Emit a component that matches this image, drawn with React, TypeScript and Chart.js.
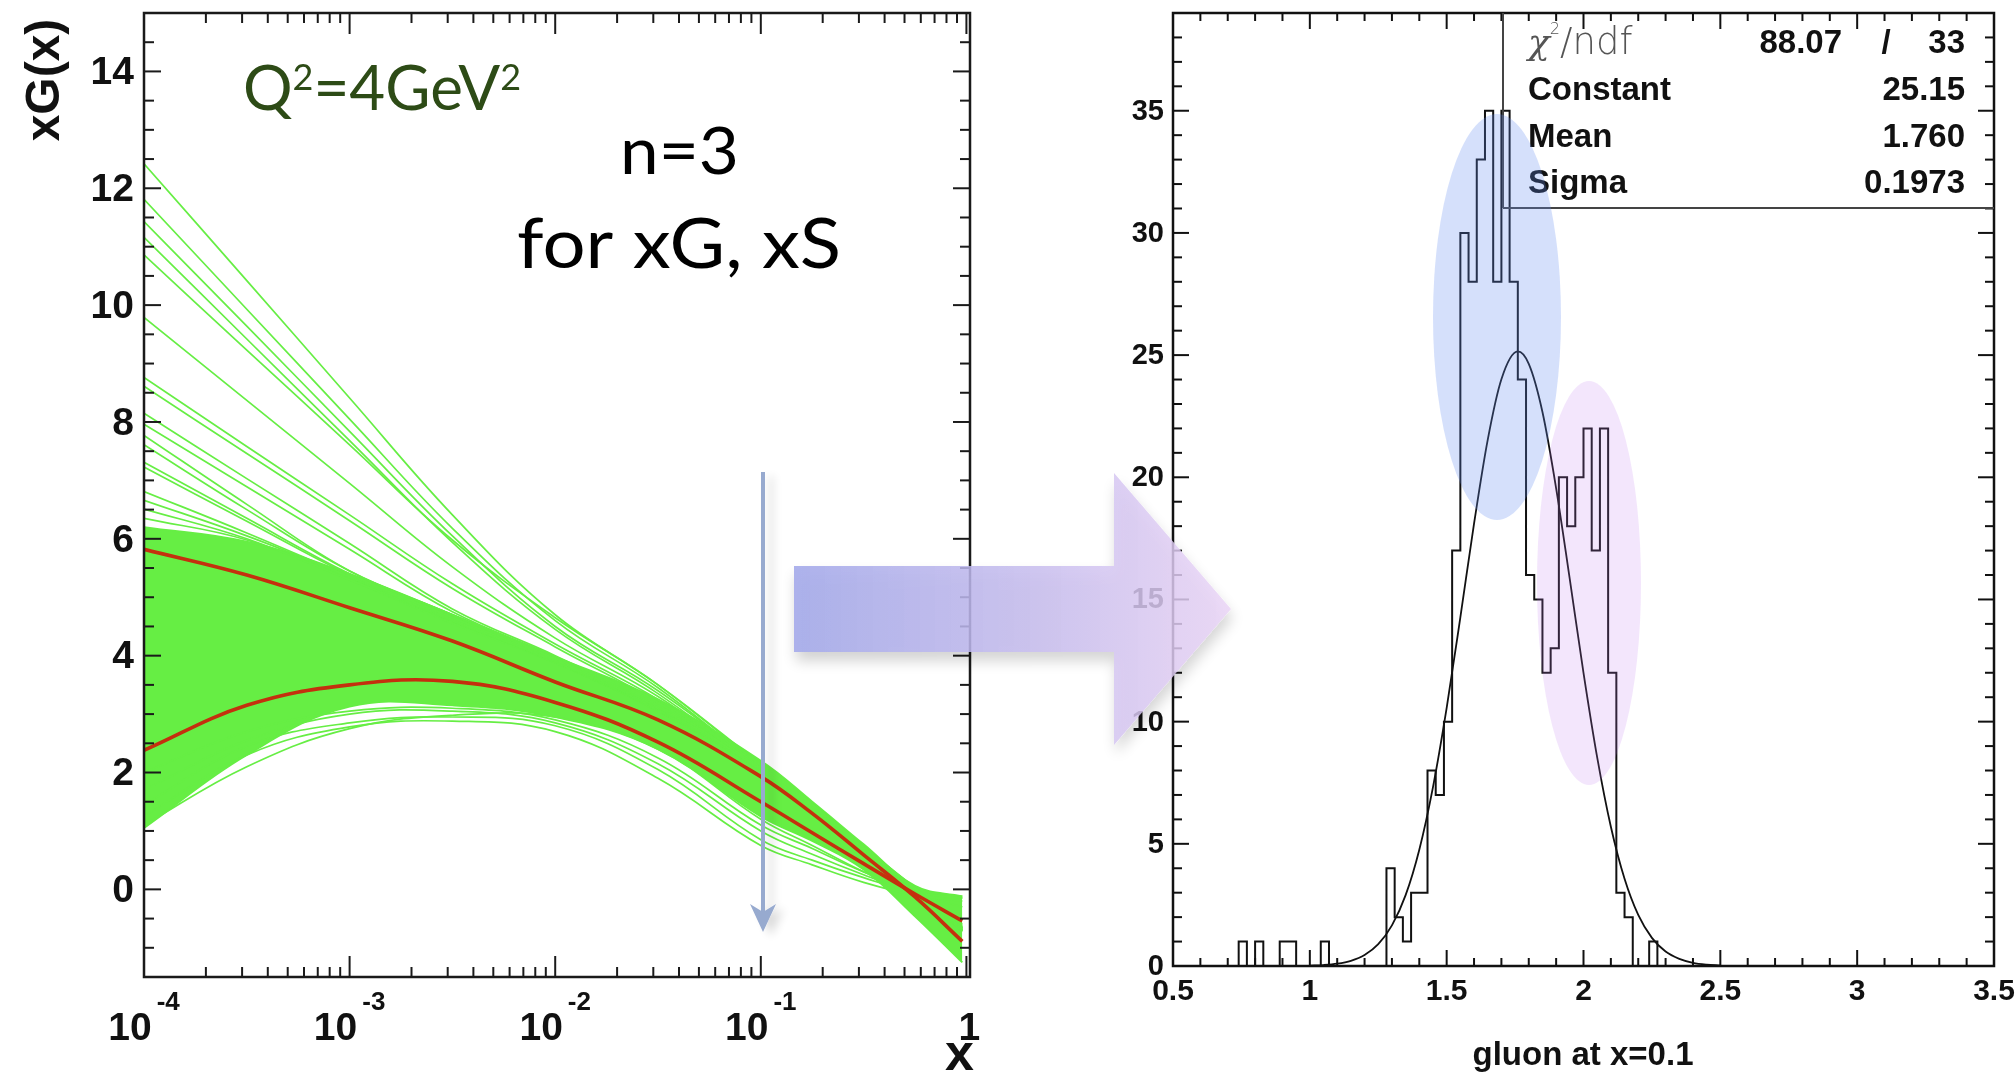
import React, { useEffect, useRef } from "react";
import { Chart, registerables } from "chart.js";

Chart.register(...registerables);

const PAGE_W = 2015;
const PAGE_H = 1074;

// ---------------- left panel: xG(x) replicas at Q^2 = 4 GeV^2 ----------------
const xGrid = [1e-4, 3.162e-4, 1e-3, 3.162e-3, 1e-2, 3.162e-2, 0.1, 0.1778, 0.3162, 0.5623, 0.955];
const bandUpper = [6.2, 5.95, 5.4, 4.7, 3.98, 3.25, 2.2, 1.5, 0.77, 0.06, -0.12];
const bandLower = [1.05, 2.3, 3.13, 3.15, 2.95, 2.4, 1.25, 0.83, 0.34, -0.46, -1.25];
const redCurveA = [5.82, 5.38, 4.82, 4.25, 3.55, 2.9, 1.93, 1.3, 0.59, -0.13, -0.89];
const redCurveB = [2.38, 3.15, 3.5, 3.56, 3.2, 2.52, 1.5, 0.97, 0.44, -0.08, -0.54];
const replicasHigh = [
  [12.42, 10.42, 8.41, 6.41, 4.7, 3.5, 2.12, 1.45, 0.72, 0.02, -0.62],
  [11.81, 9.93, 8.05, 6.18, 4.6, 3.45, 2.08, 1.42, 0.7, 0.0, -0.66],
  [11.43, 9.64, 7.84, 6.05, 4.5, 3.4, 2.1, 1.43, 0.71, 0.01, -0.64],
  [11.16, 9.42, 7.68, 5.94, 4.45, 3.35, 2.06, 1.4, 0.68, 0.0, -0.68],
  [10.86, 9.23, 7.61, 5.98, 4.65, 3.5, 2.14, 1.46, 0.73, 0.03, -0.6],
  [9.79, 8.37, 6.95, 5.52, 4.3, 3.3, 2.05, 1.38, 0.66, -0.01, -0.7],
  [8.76, 7.58, 6.41, 5.23, 4.2, 3.25, 2.08, 1.4, 0.69, 0.0, -0.66],
  [8.61, 7.46, 6.31, 5.15, 4.15, 3.2, 2.04, 1.37, 0.67, -0.01, -0.7],
  [8.15, 7.03, 5.92, 4.8, 4.0, 3.15, 2.1, 1.42, 0.7, 0.01, -0.65],
  [7.96, 6.89, 5.82, 4.75, 3.98, 3.12, 2.06, 1.39, 0.68, 0.0, -0.68],
  [7.77, 6.59, 5.45, 4.7, 3.95, 3.12, 2.08, 1.4, 0.69, 0.0, -0.66],
  [7.61, 6.5, 5.45, 4.7, 3.93, 3.1, 2.05, 1.38, 0.67, -0.01, -0.7],
  [7.31, 6.35, 5.4, 4.65, 3.92, 3.1, 2.07, 1.4, 0.69, 0.0, -0.66],
  [7.23, 6.3, 5.38, 4.62, 3.9, 3.08, 2.04, 1.37, 0.66, -0.02, -0.72],
  [6.81, 6.1, 5.35, 4.6, 3.9, 3.08, 2.06, 1.39, 0.68, 0.0, -0.68],
  [6.66, 6.05, 5.35, 4.6, 3.9, 3.06, 2.05, 1.38, 0.67, -0.01, -0.7],
  [6.51, 6.0, 5.3, 4.6, 3.88, 3.06, 2.04, 1.37, 0.66, -0.01, -0.71],
  [6.35, 5.98, 5.3, 4.55, 3.88, 3.05, 2.03, 1.36, 0.65, -0.02, -0.72],
];
const replicasLow = [
  [1.45, 2.45, 2.85, 2.95, 2.8, 2.05, 0.85, 0.5, 0.2, -0.05, -0.15],
  [1.25, 2.3, 2.78, 2.88, 2.7, 1.9, 0.75, 0.42, 0.12, -0.1, -0.2],
  [1.7, 2.55, 3.0, 3.05, 2.85, 2.15, 1.0, 0.6, 0.25, -0.05, -0.12],
  [2.0, 2.7, 3.05, 3.1, 2.9, 2.25, 1.1, 0.7, 0.3, 0.0, -0.15],
  [1.1, 2.1, 2.75, 2.98, 2.95, 2.4, 1.2, 0.75, 0.3, -0.08, -0.3],
];
const leftYTicks = [0, 2, 4, 6, 8, 10, 12, 14];
const leftXDecades = [1e-4, 1e-3, 1e-2, 1e-1, 1];
const leftXBase = ["10", "10", "10", "10", "1"];
const leftXExp = ["-4", "-3", "-2", "-1", ""];

// ---------------- right panel: gluon at x = 0.1 ----------------
const histFirstEdge = 0.5;
const histBinWidth = 0.03;
const histCounts = [
  0, 0, 0, 0, 0, 0, 0, 0, 1, 0,
  1, 0, 0, 1, 1, 0, 0, 0, 1, 0,
  0, 0, 0, 0, 0, 0, 4, 2, 1, 3,
  3, 8, 7, 10, 17, 30, 28, 33, 35, 28,
  35, 28, 24, 16, 15, 12, 13, 20, 18, 20,
  22, 17, 22, 12, 3, 2, 0, 0, 1, 0,
  0, 0, 0, 0, 0, 0, 0, 0, 0, 0,
  0, 0, 0, 0, 0, 0, 0, 0, 0, 0,
  0, 0, 0, 0, 0, 0, 0, 0, 0, 0,
  0, 0, 0, 0, 0, 0, 0, 0, 0, 0,
];
const fitX = [1.0, 1.05, 1.1, 1.15, 1.2, 1.25, 1.3, 1.35, 1.4, 1.45, 1.5, 1.55, 1.6, 1.65, 1.7, 1.76, 1.8, 1.85, 1.9, 1.95, 2.0, 2.05, 2.1, 2.15, 2.2, 2.25, 2.3, 2.35, 2.4, 2.45, 2.5];
const fitY = [0.015, 0.039, 0.093, 0.211, 0.448, 0.891, 1.66, 2.9, 4.76, 7.32, 10.56, 14.27, 18.1, 21.53, 24.01, 25.15, 24.64, 22.67, 19.55, 15.82, 12.0, 8.54, 5.7, 3.57, 2.09, 1.15, 0.59, 0.29, 0.13, 0.056, 0.022];
const rightXTicks = [0.5, 1, 1.5, 2, 2.5, 3, 3.5];
const rightXTickLabels = ["0.5", "1", "1.5", "2", "2.5", "3", "3.5"];
const rightYTicks = [0, 5, 10, 15, 20, 25, 30, 35];
const statNames = ["Constant", "Mean", "Sigma"];
const statValues = ["25.15", "1.760", "0.1973"];
const chi2Value = "88.07";
const ndfValue = "33";

const GREEN = "#66ee44";
const RED = "#c4300e";
const INK = "#111";
const HELV = '"Liberation Sans", Arial, Helvetica, sans-serif';

type Run = { t: string; font: string; dy: number };
function drawRuns(ctx: CanvasRenderingContext2D, runs: Run[], x: number, base: number, targetW?: number) {
  let total = 0;
  const ws = runs.map((r) => {
    ctx.font = r.font;
    const w = ctx.measureText(r.t).width;
    total += w;
    return w;
  });
  const s = targetW ? targetW / total : 1;
  ctx.save();
  ctx.translate(x, base);
  ctx.scale(s, 1);
  ctx.textAlign = "left";
  ctx.textBaseline = "alphabetic";
  let cx = 0;
  runs.forEach((r, i) => {
    ctx.font = r.font;
    ctx.fillText(r.t, cx, r.dy);
    cx += ws[i];
  });
  ctx.restore();
}

function hLine(ctx: CanvasRenderingContext2D, x1: number, y1: number, x2: number, y2: number) {
  ctx.beginPath();
  ctx.moveTo(x1, y1);
  ctx.lineTo(x2, y2);
  ctx.stroke();
}

const leftDecor = {
  id: "leftDecor",
  afterDatasetsDraw(chart: any) {
    const { ctx, chartArea: a, scales } = chart;
    const xs = scales.x;
    const ys = scales.y;
    ctx.save();
    ctx.strokeStyle = "#1a1a1a";
    ctx.lineWidth = 2.5;
    ctx.strokeRect(a.left, a.top, a.right - a.left, a.bottom - a.top);
    ctx.lineWidth = 2;
    for (let k = -2; k <= 29; k++) {
      const v = k * 0.5;
      if (v <= ys.min || v >= ys.max) continue;
      const py = ys.getPixelForValue(v);
      const len = k % 4 === 0 ? 17 : 10;
      hLine(ctx, a.left, py, a.left + len, py);
      hLine(ctx, a.right, py, a.right - len, py);
    }
    for (let n = -4; n <= 0; n++) {
      for (let m = 1; m <= 9; m++) {
        const v = m * Math.pow(10, n);
        if (v < xs.min || v > xs.max) continue;
        const px = xs.getPixelForValue(v);
        const len = m === 1 ? 21 : 10;
        hLine(ctx, px, a.bottom, px, a.bottom - len);
        hLine(ctx, px, a.top, px, a.top + len);
      }
    }
    ctx.restore();
  },
  afterDraw(chart: any) {
    const { ctx, chartArea: a, scales } = chart;
    const xs = scales.x;
    const ys = scales.y;
    ctx.save();
    ctx.fillStyle = INK;
    ctx.font = `bold 39px ${HELV}`;
    ctx.textAlign = "right";
    ctx.textBaseline = "middle";
    leftYTicks.forEach((v) => ctx.fillText(String(v), a.left - 10, ys.getPixelForValue(v) + 2));

    const baseFont = `bold 39px ${HELV}`;
    const expFont = `bold 26px ${HELV}`;
    leftXDecades.forEach((v, i) => {
      ctx.font = baseFont;
      const wb = ctx.measureText(leftXBase[i]).width;
      ctx.font = expFont;
      const we = leftXExp[i] ? ctx.measureText(leftXExp[i]).width : 0;
      const gap = leftXExp[i] ? 5 : 0;
      const px = xs.getPixelForValue(v);
      const sx = px - (wb + gap + we) / 2 + (leftXExp[i] ? 0 : 3);
      ctx.textAlign = "left";
      ctx.textBaseline = "alphabetic";
      ctx.font = baseFont;
      ctx.fillText(leftXBase[i], sx, 1040);
      if (leftXExp[i]) {
        ctx.font = expFont;
        ctx.fillText(leftXExp[i], sx + wb + gap, 1010);
      }
    });

    // axis titles
    ctx.font = `bold 52px ${HELV}`;
    ctx.textAlign = "right";
    ctx.fillText("x", a.right + 4, 1070);

    ctx.save();
    ctx.translate(59, 80);
    ctx.rotate(-Math.PI / 2);
    ctx.font = `bold 48px ${HELV}`;
    ctx.textAlign = "center";
    ctx.textBaseline = "alphabetic";
    ctx.fillText("xG(x)", 0, 0);
    ctx.restore();

    // annotations
    ctx.fillStyle = "#2d4b16";
    drawRuns(
      ctx,
      [
        { t: "Q", font: "62px Lato, sans-serif", dy: 0 },
        { t: "2", font: "36px Lato, sans-serif", dy: -20 },
        { t: "=4GeV", font: "62px Lato, sans-serif", dy: 0 },
        { t: "2", font: "36px Lato, sans-serif", dy: -20 },
      ],
      243,
      110,
      278
    );
    ctx.fillStyle = "#000";
    drawRuns(ctx, [{ t: "n=3", font: "65px Lato, sans-serif", dy: 0 }], 620, 174, 119);
    drawRuns(ctx, [{ t: "for xG, xS", font: "70px Lato, sans-serif", dy: 0 }], 517, 268, 324);
    ctx.restore();
  },
};

const rightDecor = {
  id: "rightDecor",
  afterDatasetsDraw(chart: any) {
    const { ctx, chartArea: a, scales } = chart;
    const xs = scales.x;
    const ys = scales.y;
    ctx.save();
    ctx.strokeStyle = "#111";
    ctx.lineWidth = 2.5;
    ctx.strokeRect(a.left, a.top, a.right - a.left, a.bottom - a.top);
    ctx.lineWidth = 2;
    for (let v = 1; v < ys.max; v++) {
      const py = ys.getPixelForValue(v);
      const len = v % 5 === 0 ? 16 : 9;
      hLine(ctx, a.left, py, a.left + len, py);
      hLine(ctx, a.right, py, a.right - len, py);
    }
    for (let k = 6; k < 35; k++) {
      const v = k / 10;
      const px = xs.getPixelForValue(v);
      const len = k % 5 === 0 ? 16 : 8;
      hLine(ctx, px, a.bottom, px, a.bottom - len);
      hLine(ctx, px, a.top, px, a.top + len);
    }
    // statistics box
    const boxL = 503;
    const boxB = 208;
    ctx.strokeStyle = "#444";
    ctx.lineWidth = 2;
    hLine(ctx, boxL, a.top, boxL, boxB);
    hLine(ctx, boxL, boxB, a.right, boxB);
    ctx.restore();
  },
  afterDraw(chart: any) {
    const { ctx, chartArea: a, scales } = chart;
    const xs = scales.x;
    const ys = scales.y;
    ctx.save();
    ctx.fillStyle = INK;
    ctx.font = `bold 29px ${HELV}`;
    ctx.textAlign = "right";
    ctx.textBaseline = "middle";
    rightYTicks.forEach((v) => ctx.fillText(String(v), a.left - 9, ys.getPixelForValue(v) + 1));
    ctx.textAlign = "center";
    ctx.textBaseline = "alphabetic";
    ctx.font = `bold 30px ${HELV}`;
    rightXTicks.forEach((v, i) => ctx.fillText(rightXTickLabels[i], xs.getPixelForValue(v), 1000));
    ctx.font = `bold 33px ${HELV}`;
    ctx.fillText("gluon at x=0.1", 583, 1065);

    // statistics text
    const lx = 528;
    const rx = 965;
    ctx.fillStyle = "#555";
    drawRuns(
      ctx,
      [
        { t: "\u03c7", font: 'italic 36px "DejaVu Serif", serif', dy: 0 },
        { t: "2", font: '200 16px "DejaVu Sans", sans-serif', dy: -20 },
        { t: "/ndf", font: '200 37px "DejaVu Sans", sans-serif', dy: 0 },
      ],
      lx,
      54
    );
    ctx.fillStyle = INK;
    ctx.font = `bold 33px ${HELV}`;
    ctx.textAlign = "right";
    ctx.fillText(chi2Value, 842, 53);
    ctx.fillText(ndfValue, rx, 53);
    ctx.textAlign = "center";
    ctx.fillText("/", 886, 53);
    const bases = [100, 147, 193];
    statNames.forEach((n, i) => {
      ctx.textAlign = "left";
      ctx.fillText(n, lx, bases[i]);
      ctx.textAlign = "right";
      ctx.fillText(statValues[i], rx, bases[i]);
    });
    ctx.restore();
  },
};

function leftConfig(): any {
  const pts = (ys: number[]) => xGrid.map((x, i) => ({ x, y: ys[i] }));
  const ds = (ys: number[], color: string, width: number, order: number, extra: any = {}) => ({
    data: pts(ys),
    borderColor: color,
    borderWidth: width,
    pointRadius: 0,
    tension: 0.4,
    fill: false,
    order,
    ...extra,
  });
  return {
    type: "line",
    data: {
      datasets: [
        ds(redCurveA, RED, 3.6, 0),
        ds(redCurveB, RED, 3.6, 0),
        ...replicasHigh.map((r) => ds(r, GREEN, 1.7, 1)),
        ...replicasLow.map((r) => ds(r, GREEN, 1.7, 1)),
        ds(bandUpper, GREEN, 2, 2, { fill: "+1", backgroundColor: GREEN }),
        ds(bandLower, GREEN, 2, 3),
      ],
    },
    options: {
      animation: false,
      responsive: false,
      maintainAspectRatio: false,
      devicePixelRatio: 1,
      events: [],
      layout: { padding: { left: 0, right: 30, top: 13, bottom: 0 } },
      plugins: { legend: { display: false }, tooltip: { enabled: false } },
      scales: {
        x: {
          type: "logarithmic",
          min: 1e-4,
          max: 1.041,
          ticks: { display: false },
          grid: { display: false },
          border: { display: false },
          afterFit: (s: any) => {
            s.height = 97;
          },
        },
        y: {
          type: "linear",
          min: -1.5,
          max: 15,
          ticks: { display: false },
          grid: { display: false },
          border: { display: false },
          afterFit: (s: any) => {
            s.width = 144;
          },
        },
      },
    },
    plugins: [leftDecor],
  };
}

function rightConfig(): any {
  const hist = histCounts.map((c, i) => ({ x: histFirstEdge + i * histBinWidth, y: c }));
  hist.push({ x: histFirstEdge + histCounts.length * histBinWidth, y: 0 });
  return {
    type: "line",
    data: {
      datasets: [
        {
          data: fitX.map((x, i) => ({ x, y: fitY[i] })),
          borderColor: "#111",
          borderWidth: 1.8,
          pointRadius: 0,
          cubicInterpolationMode: "monotone",
          fill: false,
          order: 0,
        },
        {
          data: hist,
          stepped: "before",
          borderColor: "#111",
          borderWidth: 2,
          pointRadius: 0,
          fill: false,
          order: 1,
        },
      ],
    },
    options: {
      animation: false,
      responsive: false,
      maintainAspectRatio: false,
      devicePixelRatio: 1,
      events: [],
      layout: { padding: { left: 0, right: 21, top: 13, bottom: 0 } },
      plugins: { legend: { display: false }, tooltip: { enabled: false } },
      scales: {
        x: {
          type: "linear",
          min: 0.5,
          max: 3.5,
          ticks: { display: false },
          grid: { display: false },
          border: { display: false },
          afterFit: (s: any) => {
            s.height = 108;
          },
        },
        y: {
          type: "linear",
          min: 0,
          max: 39,
          ticks: { display: false },
          grid: { display: false },
          border: { display: false },
          afterFit: (s: any) => {
            s.width = 173;
          },
        },
      },
    },
    plugins: [rightDecor],
  };
}

export default function App() {
  const leftRef = useRef<HTMLCanvasElement>(null);
  const rightRef = useRef<HTMLCanvasElement>(null);
  useEffect(() => {
    const lc = new Chart(leftRef.current as HTMLCanvasElement, leftConfig());
    const rc = new Chart(rightRef.current as HTMLCanvasElement, rightConfig());
    return () => {
      lc.destroy();
      rc.destroy();
    };
  }, []);
  return (
    <div
      style={{
        position: "absolute",
        left: 0,
        top: 0,
        width: PAGE_W,
        height: PAGE_H,
        background: "#fff",
        overflow: "hidden",
      }}
    >
      <canvas
        ref={leftRef}
        width={1000}
        height={1074}
        style={{ position: "absolute", left: 0, top: 0, width: 1000, height: 1074 }}
      />
      <canvas
        ref={rightRef}
        width={1015}
        height={1074}
        style={{ position: "absolute", left: 1000, top: 0, width: 1015, height: 1074 }}
      />
      <svg
        width={PAGE_W}
        height={PAGE_H}
        style={{ position: "absolute", left: 0, top: 0, pointerEvents: "none" }}
      >
        <defs>
          <linearGradient id="bigArrowGrad" gradientUnits="userSpaceOnUse" x1="794" y1="0" x2="1231" y2="0">
            <stop offset="0" stopColor="rgb(164,170,234)" stopOpacity="0.9" />
            <stop offset="0.55" stopColor="rgb(198,188,238)" stopOpacity="0.84" />
            <stop offset="1" stopColor="rgb(234,212,246)" stopOpacity="0.82" />
          </linearGradient>
          <filter id="softShadow" x="-20%" y="-30%" width="140%" height="170%">
            <feGaussianBlur in="SourceAlpha" stdDeviation="7" />
            <feOffset dx="2" dy="9" />
            <feComponentTransfer>
              <feFuncA type="linear" slope="0.2" />
            </feComponentTransfer>
            <feMerge>
              <feMergeNode />
              <feMergeNode in="SourceGraphic" />
            </feMerge>
          </filter>
          <filter id="thinShadow" x="-200%" y="-10%" width="500%" height="120%">
            <feGaussianBlur in="SourceAlpha" stdDeviation="5" />
            <feOffset dx="8" dy="4" />
            <feComponentTransfer>
              <feFuncA type="linear" slope="0.15" />
            </feComponentTransfer>
            <feMerge>
              <feMergeNode />
              <feMergeNode in="SourceGraphic" />
            </feMerge>
          </filter>
        </defs>
        <ellipse cx="1497" cy="317" rx="64" ry="203" fill="rgba(100,140,240,0.27)" />
        <ellipse cx="1589" cy="583" rx="52" ry="202" fill="rgba(190,120,240,0.19)" />
        <g filter="url(#thinShadow)">
          <line x1="763" y1="472" x2="763" y2="914" stroke="#97aacf" strokeWidth="4" />
          <path d="M750,904 L763,932 L776,904 L763,912 Z" fill="#97aacf" />
        </g>
        <path
          d="M794,566 L1114,566 L1114,473 L1231,609 L1114,745 L1114,652 L794,652 Z"
          fill="url(#bigArrowGrad)"
          filter="url(#softShadow)"
        />
      </svg>
    </div>
  );
}
